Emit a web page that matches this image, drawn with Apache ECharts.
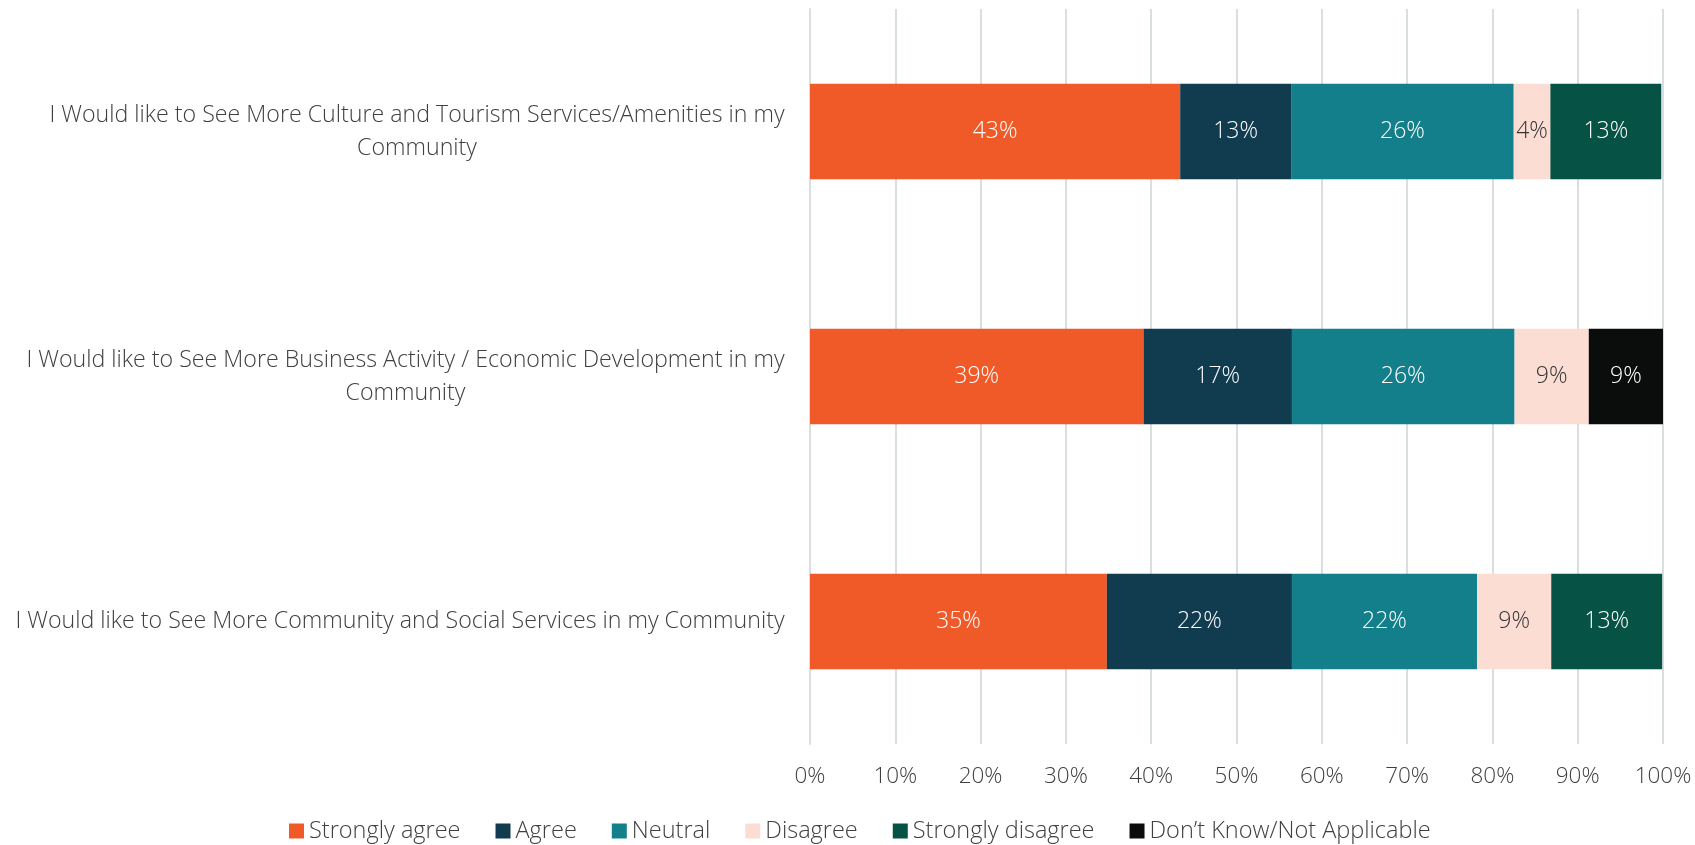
<!DOCTYPE html>
<html>
<head>
<meta charset="utf-8">
<script src="https://cdn.jsdelivr.net/npm/echarts@6/dist/echarts.min.js"></script>
<style>html,body{margin:0;padding:0;background:#fff}#c{width:1695px;height:845px}</style>
</head>
<body>
<div id="c"></div>
<script>
const categories = [
  "I Would like to See More Culture and Tourism Services/Amenities in my\nCommunity",
  "I Would like to See More Business Activity / Economic Development in my\nCommunity",
  "I Would like to See More Community and Social Services in my Community"
];
const seriesNames = ["Strongly agree", "Agree", "Neutral", "Disagree", "Strongly disagree", "Don\u2019t Know/Not Applicable"];
const stronglyAgree = [43.4, 39.1, 34.8];
const agree = [13.0, 17.4, 21.7];
const neutral = [26.1, 26.1, 21.7];
const disagree = [4.3, 8.7, 8.7];
const stronglyDisagree = [13.0, 0, 13.0];
const dontKnow = [0, 8.7, 0];
const xTicks = [0, 10, 20, 30, 40, 50, 60, 70, 80, 90, 100];

const colors = ["#F05A28", "#113B4F", "#127F8A", "#FBDDD3", "#065244", "#0B0C0C"];
const labelColors = ["#ffffff", "#ffffff", "#ffffff", "#333333", "#ffffff", "#ffffff"];
const FONT = "Open Sans";
const FS_CAT = 23.2;
const FS_TICK = 22.5;
const FS_BAR = 23;
const FS_LEG = 23.5;

// measure widths to center the wrapped lines within each label block
const ctx = document.createElement("canvas").getContext("2d");
ctx.font = "300 " + FS_CAT + "px '" + FONT + "'";
const rich = {};
categories.forEach((c, i) => {
  const w = Math.max(...c.split("\n").map(l => ctx.measureText(l).width));
  rich["c" + i] = { width: Math.ceil(w) + 2, align: "center", fontFamily: FONT, fontSize: FS_CAT, fontWeight: 300, color: "#404040", lineHeight: 33 };
});

const allData = [stronglyAgree, agree, neutral, disagree, stronglyDisagree, dontKnow];
const series = seriesNames.map((name, k) => ({
  name: name,
  type: "bar",
  stack: "total",
  barWidth: "39%",
  data: allData[k],
  itemStyle: { color: colors[k] },
  label: {
    show: true,
    position: "inside",
    color: labelColors[k],
    fontFamily: FONT,
    fontSize: FS_BAR,
    fontWeight: 300,
    formatter: p => p.value > 0 ? Math.round(p.value) + "%" : ""
  }
}));

const chart = echarts.init(document.getElementById("c"), null, { renderer: "canvas" });
chart.setOption({
  animation: false,
  textStyle: { fontFamily: FONT },
  grid: { left: 810, right: 32, top: 9, bottom: 101, containLabel: false },
  legend: {
    data: seriesNames,
    bottom: -3,
    left: 284,
    itemWidth: 15,
    itemHeight: 15,
    itemGap: 35,
    icon: "rect",
    textStyle: { fontFamily: FONT, fontSize: FS_LEG, color: "#404040", fontWeight: 300 }
  },
  xAxis: {
    type: "value",
    min: xTicks[0],
    max: xTicks[xTicks.length - 1],
    interval: 10,
    axisLine: { show: false },
    axisTick: { show: false },
    splitLine: { show: true, lineStyle: { color: "#D9DFE0", width: 2 } },
    axisLabel: { formatter: "{value}%", fontFamily: FONT, fontSize: FS_TICK, color: "#404040", margin: 21, fontWeight: 300 }
  },
  yAxis: {
    type: "category",
    inverse: true,
    data: categories,
    axisLine: { show: true, lineStyle: { color: "#D9DFE0", width: 2 } },
    axisTick: { show: false },
    axisLabel: {
      margin: 24,
      formatter: (v, i) => v.split("\n").map(l => "{c" + i + "|" + l + "}").join("\n"),
      rich: rich
    }
  },
  series: series
});
</script>
</body>
</html>
